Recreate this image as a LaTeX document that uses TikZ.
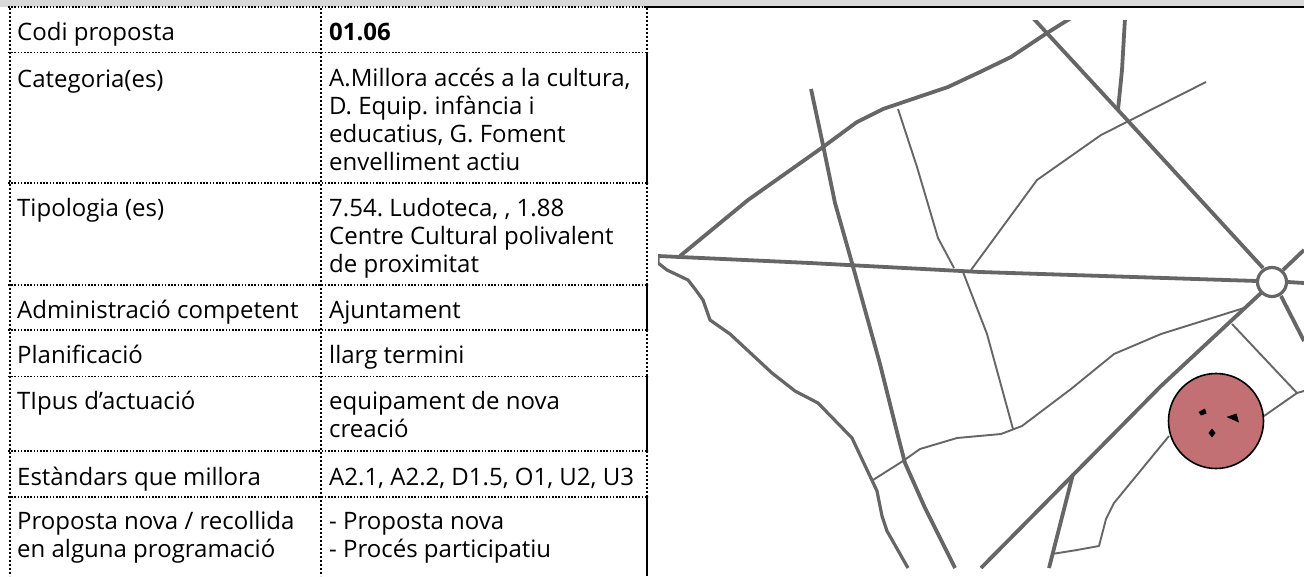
\documentclass[tikz,border=0pt]{standalone}
\usepackage{fontspec}
\setmainfont{Open Sans}
\frenchspacing
\definecolor{road}{HTML}{666666}
\definecolor{spot}{HTML}{C27074}
\definecolor{band}{HTML}{D9D9D9}
\tikzset{
  x=1pt,y=-1pt,
  hdots/.style={line width=1.5pt,dash pattern=on 1.5pt off 1.7pt,black},
  vdots/.style={line width=2pt,dash pattern=on 2pt off 2pt,black},
  solidline/.style={line width=1.6pt,black},
  road1/.style={draw=road,line width=3.8pt,line join=round},
  road2/.style={draw=road,line width=3.2pt,line join=round},
  road3/.style={draw=road,line width=1.9pt,line join=round},
  txt/.style={anchor=base west,inner sep=0pt,font=\fontsize{24}{28}\selectfont,align=left},
}
\begin{document}
\begin{tikzpicture}
\useasboundingbox (0,0) rectangle (1304,576);
\fill[white] (0,0) rectangle (1304,576);
\fill[band] (0,0) rectangle (1304,6.5);
% map
\begin{scope}
\clip (658,20) rectangle (1304,568);
\draw[road1] (811,89) -- (823,145) -- (835,203) -- (852,263) -- (880,364) -- (898,436) -- (905,463) -- (925,508) -- (955,568);
\draw[road1] (680,256) -- (748,200) -- (823,147) -- (857,122) -- (883,109) -- (948,87) -- (980,72) -- (1011,57) -- (1047,33) -- (1071,18);
\draw[road1] (658,256) -- (810,263) -- (980,272) -- (1257,281);
\draw[road1] (1288,282) -- (1304,283);
\draw[road1] (1033,18) -- (1129,122) -- (1263,268);
\draw[road1] (1125,18) -- (1122,70) -- (1118,110);
\draw[road1] (1283,270) -- (1304,250);
\draw[road1] (1281,296) -- (1304,341);
\draw[road1] (1261,293) -- (1161,386) -- (1074,474) -- (981,568);
\draw[road1] (1073,474) -- (1049,568);
\draw[road2] (658,256) -- (658,263) -- (667,270) -- (688,280) -- (695,289) -- (703,300) -- (710,320) -- (730,334) -- (772,373) -- (795,391) -- (818,403) -- (852,438) -- (877,491) -- (882,516) -- (887,531) -- (908,568);
\draw[road3] (898,109) -- (917,167) -- (938,238) -- (954,268);
\draw[road3] (963,272) -- (987,334) -- (1013,429);
\draw[road3] (971,270) -- (1037,180) -- (1101,135) -- (1206,82);
\draw[road3] (873,480) -- (903,461) -- (920,449) -- (957,438) -- (1001,434) -- (1022,426) -- (1071,389) -- (1114,354) -- (1161,334) -- (1244,308);
\draw[road3] (1232,324) -- (1297,393);
\draw[road3] (1264,416) -- (1297,393) -- (1304,391);
\draw[road3] (1169,436) -- (1114,503) -- (1106,519) -- (1099,546) -- (1077,550) -- (1052,554);
\draw[line width=3.2pt,draw=road,fill=white] (1272,282) circle (14.5);
\end{scope}
\draw[black,line width=1.6pt,fill=spot] (1216,421) circle (47.5);
\fill[black] (1198.5,412) -- (1205,408.5) -- (1206.5,413.5) -- (1201,415.5) -- cycle;
\fill[black] (1226.5,417) -- (1236.5,413.5) -- (1239,422.5) -- cycle;
\fill[black] (1208.5,433) -- (1212,428.5) -- (1215.5,433) -- (1212,437.5) -- cycle;
% header rule
\draw[black,line width=2pt] (644,7) -- (1304,7);
% table
\draw[hdots] (8,7) -- (644,7);
\foreach \yy in {52.7,183,285,330,376.7,451,497}{\draw[hdots] (8,\yy) -- (648,\yy);}
\draw[vdots] (9.5,8) -- (9.5,576);
\draw[vdots] (321,8) -- (321,576);
\draw[vdots] (647,8) -- (647,52);
\draw[vdots] (647,183) -- (647,285);
\draw[vdots] (647,330) -- (647,376);
\draw[vdots] (647,451) -- (647,497);
\draw[solidline] (647,52) -- (647,183);
\draw[solidline] (647,285) -- (647,330);
\draw[solidline] (647,376) -- (647,451);
\draw[solidline] (647,497) -- (647,576);
\node[txt] (a1) at (17,40) {Codi proposta};
\node[txt,font=\fontsize{24}{28}\selectfont\bfseries] (b1) at (329,40) {01.06};
\node[txt] (a2) at (17,87) {Categoria(es)};
\node[txt] (b2) at (329,170.5) {A.Millora accés a la cultura,\\D. Equip. infància i\\educatius, G. Foment\\envelliment actiu};
\node[txt] (a3) at (17,216) {Tipologia (es)};
\node[txt] (b3) at (329,272) {7.54. Ludoteca, , 1.88\\Centre Cultural polivalent\\de proximitat};
\node[txt] (a4) at (17,318) {Administració competent};
\node[txt] (b4) at (329,318) {Ajuntament};
\node[txt] (a5) at (17,363) {Planificació};
\node[txt] (b5) at (329,363) {llarg termini};
\node[txt] (a6) at (17,409) {TIpus d’actuació};
\node[txt] (b6) at (329,437.5) {equipament de nova\\creació};
\node[txt] (a7) at (17,485) {Estàndars que millora};
\node[txt] (b7) at (329,485) {A2.1, A2.2, D1.5, O1, U2, U3};
\node[txt] (a8) at (17,557.5) {Proposta nova / recollida\\en alguna programació};
\node[txt] (b8) at (329,557.5) {- Proposta nova\\- Procés participatiu};
\end{tikzpicture}
\end{document}
